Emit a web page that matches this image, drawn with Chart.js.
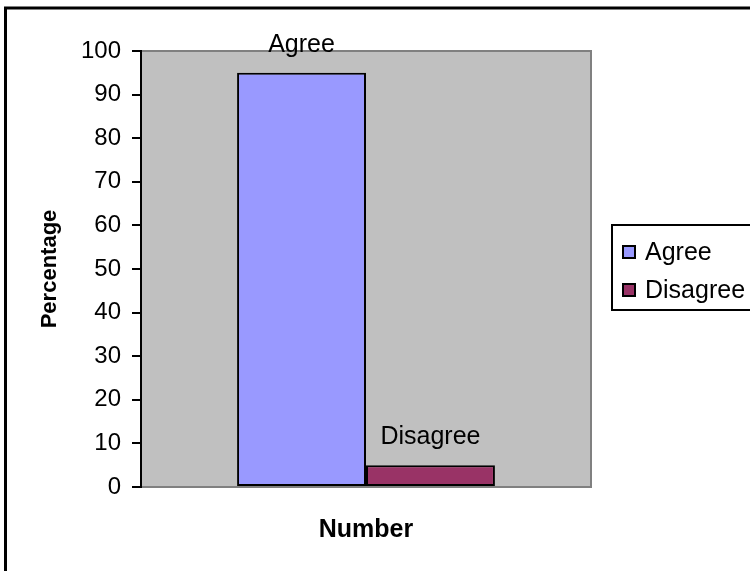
<!DOCTYPE html>
<html>
<head>
<meta charset="utf-8">
<script src="https://cdn.jsdelivr.net/npm/chart.js@4"></script>
<style>
  html, body { margin: 0; padding: 0; background: #fff; }
  #wrap { width: 750px; height: 571px; }
</style>
</head>
<body>
<div id="wrap"><canvas id="chart" width="750" height="571"></canvas></div>
<script>
const categories = ['']
const seriesNames = ['Agree', 'Disagree']
const agreeValues = [95]
const disagreeValues = [5]
const yTicks = [0, 10, 20, 30, 40, 50, 60, 70, 80, 90, 100]

const FONT = "'Liberation Sans', Arial, sans-serif"

// grey plot area and outer frame
const backgroundPlugin = {
  id: 'background',
  beforeDraw(chart) {
    const { ctx, chartArea: a } = chart
    ctx.save()
    ctx.fillStyle = '#fff'
    ctx.fillRect(0, 0, chart.width, chart.height)
    ctx.fillStyle = '#C0C0C0'
    ctx.fillRect(a.left, a.top, a.right - a.left, a.bottom - a.top)
    ctx.strokeStyle = '#808080'
    ctx.lineWidth = 2
    ctx.beginPath()
    ctx.moveTo(a.left, a.top)
    ctx.lineTo(a.right, a.top)
    ctx.lineTo(a.right, a.bottom)
    ctx.stroke()
    ctx.strokeStyle = '#000'
    ctx.lineWidth = 3
    ctx.beginPath()
    ctx.moveTo(5.5, chart.height)
    ctx.lineTo(5.5, 8)
    ctx.lineTo(chart.width, 8)
    ctx.stroke()
    ctx.restore()
  },
}

// series name above each bar
const barLabelPlugin = {
  id: 'barLabels',
  afterDatasetsDraw(chart) {
    const { ctx } = chart
    ctx.save()
    ctx.font = '25px ' + FONT
    ctx.fillStyle = '#000'
    ctx.textAlign = 'center'
    ctx.textBaseline = 'alphabetic'
    chart.data.datasets.forEach((ds, i) => {
      chart.getDatasetMeta(i).data.forEach((bar) => {
        ctx.fillText(ds.label, bar.x, bar.y - 21)
      })
    })
    ctx.restore()
  },
}

// boxed legend on the right
const legendPlugin = {
  id: 'boxLegend',
  afterDraw(chart) {
    const { ctx } = chart
    const left = 612, top = 225, bottom = 310
    ctx.save()
    ctx.strokeStyle = '#000'
    ctx.lineWidth = 2
    ctx.strokeRect(left, top, chart.width + 10 - left, bottom - top)
    ctx.font = '25px ' + FONT
    ctx.textBaseline = 'middle'
    ctx.textAlign = 'left'
    chart.data.datasets.forEach((ds, i) => {
      const cy = 252 + i * 38
      ctx.fillStyle = ds.backgroundColor
      ctx.fillRect(623, cy - 6, 12, 12)
      ctx.lineWidth = 2
      ctx.strokeRect(623, cy - 6, 12, 12)
      ctx.fillStyle = '#000'
      ctx.fillText(ds.label, 645, cy + 1)
    })
    ctx.restore()
  },
}

const chartData = {
  labels: categories,
  datasets: [
    {
      label: seriesNames[0],
      data: agreeValues,
      backgroundColor: '#9999FF',
      borderColor: '#000',
      borderWidth: 2,
      borderSkipped: false,
      categoryPercentage: 0.573,
      barPercentage: 1,
    },
    {
      label: seriesNames[1],
      data: disagreeValues,
      backgroundColor: '#993366',
      borderColor: '#000',
      borderWidth: 2,
      borderSkipped: false,
      categoryPercentage: 0.573,
      barPercentage: 1,
    },
  ],
}

const config = {
  type: 'bar',
  data: chartData,
  options: {
    responsive: false,
    animation: false,
    layout: { padding: { left: 0, top: 51, right: 159, bottom: 0 } },
    plugins: {
      legend: { display: false },
      tooltip: { enabled: false },
    },
    scales: {
      x: {
        ticks: { display: false },
        grid: { display: false },
        border: { color: '#808080', width: 2 },
        title: {
          display: true,
          text: 'Number',
          color: '#000',
          font: { family: FONT, size: 25, weight: 'bold' },
          padding: { top: 0, bottom: 26 },
        },
        afterFit(scale) { scale.height = 84 },
      },
      y: {
        min: 0,
        max: 100,
        afterBuildTicks(scale) { scale.ticks = yTicks.map((v) => ({ value: v })) },
        ticks: {
          color: '#000',
          padding: 11,
          font: { family: FONT, size: 24 },
        },
        grid: {
          drawOnChartArea: false,
          tickLength: 9,
          color: '#000',
          lineWidth: 2,
        },
        border: { color: '#000', width: 2 },
        title: {
          display: true,
          text: 'Percentage',
          color: '#000',
          font: { family: FONT, size: 22, weight: 'bold' },
          padding: { top: 37, bottom: 0 },
        },
        afterFit(scale) { scale.width = 141 },
      },
    },
  },
  plugins: [backgroundPlugin, barLabelPlugin, legendPlugin],
}

const percentChart = new Chart(document.getElementById('chart'), config)
</script>
</body>
</html>
